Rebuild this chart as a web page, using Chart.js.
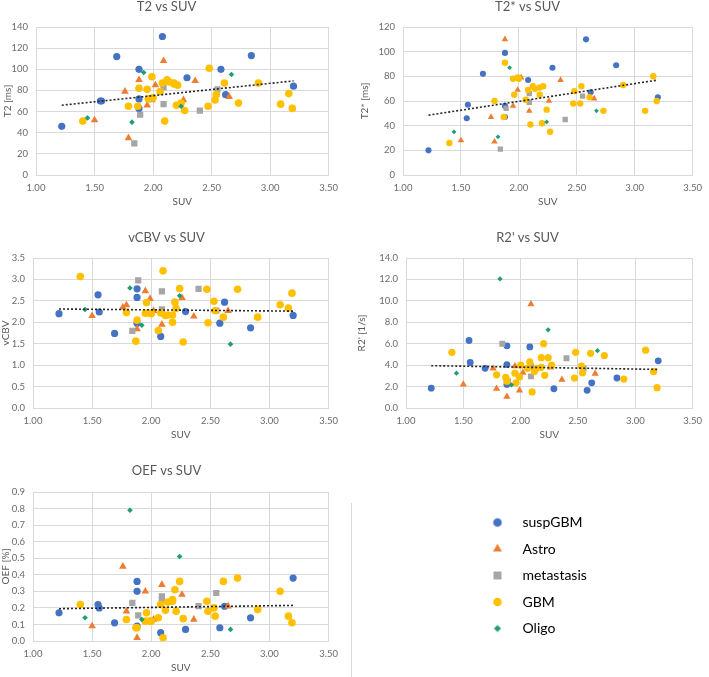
<!DOCTYPE html>
<html>
<head>
<meta charset="utf-8">
<script src="https://cdn.jsdelivr.net/npm/chart.js@4.4.0/dist/chart.umd.min.js"></script>
<style>
  body { margin: 0; background: #fff; width: 709px; height: 677px; position: relative; overflow: hidden; }
  canvas { position: absolute; }
  #sep { position: absolute; left: 351px; top: 503px; width: 1px; height: 174px; background: #d9d9d9; }
</style>
</head>
<body>
<div id="sep"></div>
<script>
// --- data ---
const groupNames = ["suspGBM", "Astro", "metastasis", "GBM", "Oligo"];

const suvSusp = [1.22, 1.55, 1.56, 1.69, 1.88, 1.88, 1.88, 2.08, 2.29, 2.58, 2.62, 2.84, 3.20];
const t2Susp = [46, 70, 70, 112, 100, 72, 63, 131, 92, 100, 76, 113, 84];
const t2sSusp = [20, 46, 57, 82, 99, 56, 47, 77, 87, 110, 67, 89, 63];
const cbvSusp = [2.20, 2.64, 2.24, 1.74, 2.78, 2.58, 1.98, 1.67, 2.25, 1.98, 2.47, 1.87, 2.16];
const r2Susp = [1.85, 6.30, 4.25, 3.70, 5.80, 4.05, 2.20, 5.70, 1.80, 1.65, 2.35, 2.80, 4.40];
const oefSusp = [0.17, 0.22, 0.20, 0.11, 0.36, 0.30, 0.09, 0.05, 0.07, 0.08, 0.21, 0.14, 0.38];

const suvAstro = [1.50, 1.76, 1.79, 1.88, 1.95, 1.99, 2.02, 2.09, 2.26, 2.36, 2.65];
const t2Astro = [52, 79, 35, 90, 66, 71, 85, 108, 71, 89, 74];
const t2sAstro = [28, 47, 27, 110, 56, 69, 79, 52, 60, 77, 62];
const cbvAstro = [2.15, 2.35, 2.40, 1.84, 2.73, 2.55, 2.27, 1.95, 2.57, 2.14, 2.27];
const r2Astro = [2.20, 3.70, 1.80, 1.05, 3.90, 1.65, 3.30, 9.70, 3.80, 2.65, 3.20];
const oefAstro = [0.09, 0.45, 0.18, 0.02, 0.30, 0.12, 0.13, 0.34, 0.28, 0.13, 0.21];

const suvMeta = [1.84, 1.89, 2.09, 2.09, 2.40, 2.55];
const t2Meta = [30, 57, 83, 67, 61, 81];
const t2sMeta = [21, 54, 66, 59, 45, 64];
const cbvMeta = [1.80, 2.98, 2.72, 2.30, 2.78, 2.27];
const r2Meta = [6.00, 2.50, 2.95, 3.90, 4.65, 3.70];
const oefMeta = [0.23, 0.155, 0.27, 0.25, 0.21, 0.29];

const suvGbm = [1.40, 1.79, 1.87, 1.88, 1.95, 1.96, 1.99, 2.00, 2.06, 2.08, 2.10, 2.12, 2.14, 2.18, 2.18,
  2.20, 2.21, 2.24, 2.27, 2.47, 2.48, 2.53, 2.54, 2.61, 2.73, 2.90, 3.09, 3.16, 3.19];
const t2Gbm = [51, 65, 65, 82, 81, 72, 93, 73, 79, 87, 51, 90, 88, 87, 86,
  66, 85, 68, 61, 65, 101, 71, 76, 87, 68, 87, 67, 77, 63];
const t2sGbm = [26, 60, 47, 91, 78, 65, 79, 78, 61, 69, 41, 72, 70, 65, 71,
  42, 72, 53, 35, 58, 68, 58, 72, 63, 52, 73, 52, 80, 60];
const cbvGbm = [3.07, 2.23, 1.56, 2.05, 2.21, 2.46, 2.21, 2.20, 1.81, 2.22, 3.20, 2.16, 2.17, 2.00, 2.17,
  2.47, 2.32, 2.79, 1.54, 2.77, 1.99, 2.49, 2.27, 2.12, 2.77, 2.12, 2.41, 2.33, 2.68];
const r2Gbm = [5.2, 3.1, 2.85, 2.5, 3.25, 2.35, 2.9, 4.0, 3.7, 4.3, 1.5, 3.4, 3.7, 4.7, 3.8,
  6.0, 3.05, 4.7, 4.0, 2.8, 5.2, 3.9, 3.3, 5.1, 4.9, 2.7, 5.4, 3.4, 1.9];
const oefGbm = [0.22, 0.13, 0.08, 0.08, 0.12, 0.17, 0.12, 0.12, 0.14, 0.22, 0.02, 0.185, 0.235, 0.25, 0.24,
  0.31, 0.18, 0.36, 0.135, 0.24, 0.18, 0.20, 0.15, 0.36, 0.38, 0.19, 0.30, 0.15, 0.11];

const suvOligo = [1.44, 1.82, 1.92, 2.24, 2.67];
const t2Oligo = [54, 50, 97, 65, 95];
const t2sOligo = [35, 31, 87, 43, 52];
const cbvOligo = [2.30, 2.80, 1.93, 2.62, 1.49];
const r2Oligo = [3.25, 12.05, 2.15, 7.30, 5.35];
const oefOligo = [0.14, 0.79, 0.13, 0.51, 0.07];

// linear trendlines (end points)
const trendSuv = [1.22, 3.20];
const trendT2 = [66, 89];
const trendT2s = [48.5, 77];
const trendCbv = [2.31, 2.26];
const trendR2 = [3.95, 3.60];
const trendOef = [0.195, 0.215];

const xTicks = [1.0, 1.5, 2.0, 2.5, 3.0, 3.5];

// --- styling ---
const FONT = 'Lato, "Open Sans", sans-serif';
const TXT = "#595959";
const TICK = "#6b6b6b";
const GRID = "#d9d9d9";

const groups = [
  { name: "suspGBM", suv: suvSusp, color: "#4472C4", style: "circle", r: 3.6 },
  { name: "Astro", suv: suvAstro, color: "#ED7D31", style: "triangle", r: 4.4 },
  { name: "metastasis", suv: suvMeta, color: "#A5A5A5", style: "rect", r: 4.4 },
  { name: "GBM", suv: suvGbm, color: "#FFC000", style: "circle", r: 3.8 },
  { name: "Oligo", suv: suvOligo, color: "#1F9E76", style: "rectRot", r: 2.8 }
];

const panels = [
  { title: "T2 vs SUV", yLabel: "T2 [ms]", vals: [t2Susp, t2Astro, t2Meta, t2Gbm, t2Oligo], trend: trendT2,
    yMax: 140, yStep: 20, yDec: 0, left: 0, top: 0, titleY: 6.5, L: 36, T: 27, R: 333, B: 175, padR: 12, yTitleX: 8, k: 1 },
  { title: "T2* vs SUV", yLabel: "T2* [ms]", vals: [t2sSusp, t2sAstro, t2sMeta, t2sGbm, t2sOligo], trend: trendT2s,
    yMax: 120, yStep: 20, yDec: 0, left: 355, top: 0, titleY: 6.5, L: 403, T: 27, R: 700, B: 175, padR: 9, yTitleX: 365, k: 0.85 },
  { title: "vCBV vs SUV", yLabel: "vCBV", vals: [cbvSusp, cbvAstro, cbvMeta, cbvGbm, cbvOligo], trend: trendCbv,
    yMax: 3.5, yStep: 0.5, yDec: 1, left: 0, top: 231, titleY: 238, L: 33, T: 258, R: 333, B: 408, padR: 12, yTitleX: 6, k: 1 },
  { title: "R2' vs SUV", yLabel: "R2' [1/s]", vals: [r2Susp, r2Astro, r2Meta, r2Gbm, r2Oligo], trend: trendR2,
    yMax: 14, yStep: 2, yDec: 1, left: 355, top: 231, titleY: 238, L: 406, T: 258, R: 700, B: 408, padR: 9, yTitleX: 362, k: 0.95 },
  { title: "OEF vs SUV", yLabel: "OEF [%]", vals: [oefSusp, oefAstro, oefMeta, oefGbm, oefOligo], trend: trendOef,
    yMax: 0.9, yStep: 0.1, yDec: 1, left: 0, top: 464, titleY: 471, L: 33, T: 492, R: 333, B: 641, padR: 12, yTitleX: 6, k: 1 }
];

function makePanel(p) {
  const xAxisH = 34;
  const cv = document.createElement("canvas");
  const w = p.R + p.padR - p.left;
  const h = p.B + xAxisH - p.top;
  cv.width = w; cv.height = h;
  cv.style.left = p.left + "px"; cv.style.top = p.top + "px";
  cv.style.width = w + "px"; cv.style.height = h + "px";
  document.body.appendChild(cv);

  const titleLH = 13;
  const tPadTop = p.titleY - p.top - titleLH / 2;
  const tPadBottom = p.T - p.top - titleLH - tPadTop;
  const yW = p.L - p.left;
  const yTitlePad = p.yTitleX - p.left - 6;

  const datasets = [{
    type: "line",
    data: trendSuv.map((x, i) => ({ x, y: p.trend[i] })),
    borderColor: "#262626", borderWidth: 1.6, borderDash: [2, 2],
    pointRadius: 0, fill: false
  }];
  // later groups sit on top in the original, chart.js draws first dataset topmost
  for (let g = groups.length - 1; g >= 0; g--) {
    const grp = groups[g];
    datasets.push({
      label: grp.name,
      data: grp.suv.map((x, i) => ({ x, y: p.vals[g][i] })),
      pointStyle: grp.style,
      pointRadius: grp.r * p.k,
      pointBackgroundColor: grp.color,
      pointBorderColor: grp.color,
      pointBorderWidth: 0
    });
  }

  new Chart(cv, {
    type: "scatter",
    data: { datasets },
    options: {
      responsive: false, animation: false, devicePixelRatio: 1,
      layout: { autoPadding: false, padding: { left: 0, top: 0, bottom: 0, right: p.padR } },
      plugins: {
        legend: { display: false },
        tooltip: { enabled: false },
        title: {
          display: true, text: p.title, color: TXT,
          font: { family: FONT, size: 13, weight: "normal", lineHeight: 1 },
          padding: { top: tPadTop, bottom: tPadBottom }
        }
      },
      scales: {
        x: {
          type: "linear", min: xTicks[0], max: xTicks[xTicks.length - 1],
          afterBuildTicks: s => { s.ticks = xTicks.map(v => ({ value: v })); },
          ticks: { callback: v => Number(v).toFixed(2), color: TICK, font: { family: FONT, size: 9.5 }, padding: 7, maxRotation: 0 },
          grid: { color: GRID, drawTicks: false },
          border: { color: GRID },
          title: { display: true, text: "SUV", color: TXT, font: { family: FONT, size: 10, lineHeight: 1.2 }, padding: { top: 0, bottom: 1 } },
          afterFit: s => { s.height = xAxisH; }
        },
        y: {
          type: "linear", min: 0, max: p.yMax,
          ticks: { stepSize: p.yStep, callback: v => Number(v).toFixed(p.yDec), color: TICK, font: { family: FONT, size: 9.5 }, padding: 8 },
          grid: { color: GRID, drawTicks: false },
          border: { color: GRID },
          title: { display: true, text: p.yLabel, color: TXT, font: { family: FONT, size: 10, lineHeight: 1.2 }, padding: { top: yTitlePad, bottom: 0 } },
          afterFit: s => { s.width = yW; }
        }
      }
    }
  });
}

panels.forEach(makePanel);

// --- legend ---
function markerImage(grp, r) {
  const c = document.createElement("canvas");
  c.width = 14; c.height = 14;
  const ctx = c.getContext("2d");
  ctx.fillStyle = grp.color;
  ctx.strokeStyle = grp.color;
  Chart.helpers.drawPoint(ctx, { pointStyle: grp.style, radius: r, borderWidth: 0, rotation: 0 }, 7, 7);
  return c;
}
const legendRadius = [4.3, 5.2, 5.6, 4.3, 3.6];
const legendIcons = groups.map((g, i) => markerImage(g, legendRadius[i]));

// tall canvas: a top legend may only take half of the chart height
const lc = document.createElement("canvas");
lc.width = 150; lc.height = 360;
lc.style.left = "467px"; lc.style.top = "503px";
lc.style.width = "150px"; lc.style.height = "360px";
document.body.appendChild(lc);

new Chart(lc, {
  type: "scatter",
  data: { datasets: groups.map(g => ({ label: g.name, data: [] })) },
  options: {
    responsive: false, animation: false, devicePixelRatio: 1,
    layout: { autoPadding: false, padding: 0 },
    scales: { x: { display: false }, y: { display: false } },
    plugins: {
      tooltip: { enabled: false },
      legend: {
        display: true, position: "top", align: "start",
        labels: {
          usePointStyle: true, pointStyleWidth: 36, padding: 12.5,
          color: TXT, font: { family: FONT, size: 14 },
          generateLabels: () => groups.map((g, i) => ({
            text: g.name, fillStyle: g.color, strokeStyle: g.color, lineWidth: 0,
            pointStyle: legendIcons[i], hidden: false, datasetIndex: i
          }))
        }
      }
    }
  }
});
</script>
</body>
</html>
